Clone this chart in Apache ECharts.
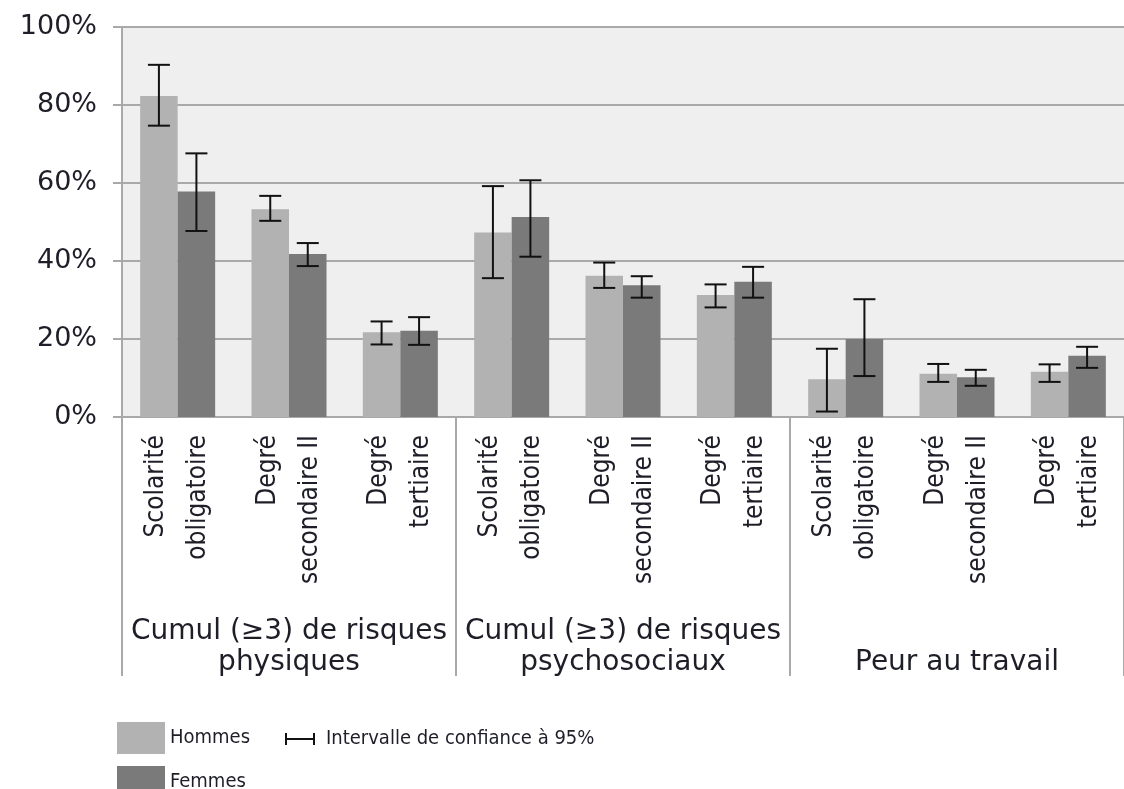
<!DOCTYPE html>
<html>
<head>
<meta charset="utf-8">
<script src="https://cdn.jsdelivr.net/npm/echarts@6/dist/echarts.min.js"></script>
<style>
  html, body { margin: 0; padding: 0; background: #fff; }
  #chart { width: 1124px; height: 789px; }
</style>
</head>
<body>
<div id="chart"></div>
<script>
// categories (niveau de formation), 3 per group
var categories = [
  'Scolarité\nobligatoire', 'Degré\nsecondaire II', 'Degré\ntertiaire',
  'Scolarité\nobligatoire', 'Degré\nsecondaire II', 'Degré\ntertiaire',
  'Scolarité\nobligatoire', 'Degré\nsecondaire II', 'Degré\ntertiaire'
];
var groups = ['Cumul (≥3) de risques\nphysiques', 'Cumul (≥3) de risques\npsychosociaux', 'Peur au travail'];
var yTicks = [0, 20, 40, 60, 80, 100];

var hommes = [82.3, 53.3, 21.7, 47.3, 36.2, 31.3, 9.7, 11.1, 11.6];
var femmes = [57.8, 41.8, 22.1, 51.3, 33.8, 34.7, 20.0, 10.2, 15.7];
// intervalles de confiance 95% (bas, haut)
var hommesLow  = [74.7, 50.3, 18.6, 35.6, 33.1, 28.1, 1.4, 9.0, 9.0];
var hommesHigh = [90.3, 56.7, 24.5, 59.2, 39.6, 34.0, 17.5, 13.6, 13.5];
var femmesLow  = [47.7, 38.7, 18.5, 41.1, 30.6, 30.6, 10.5, 8.0, 12.6];
var femmesHigh = [67.6, 44.6, 25.6, 60.7, 36.1, 38.5, 30.2, 12.1, 18.0];

var barW = 37.5;
var narrow = '"DejaVu Sans Condensed", "Liberation Sans Narrow", sans-serif';
var wide = '"DejaVu Sans", Verdana, sans-serif';
var txt = '#1e1e28';

var errData = [];
for (var i = 0; i < categories.length; i++) {
  errData.push([i, hommesLow[i], hommesHigh[i], 0]);
  errData.push([i, femmesLow[i], femmesHigh[i], 1]);
}

function renderErr(params, api) {
  var idx = api.value(0);
  var top = api.coord([idx, api.value(2)]);
  var bot = api.coord([idx, api.value(1)]);
  var x = top[0] + (api.value(3) === 0 ? -1 : 1) * barW / 2;
  var cap = 11;
  var st = { stroke: '#111', lineWidth: 2 };
  return {
    type: 'group',
    children: [
      { type: 'line', shape: { x1: x, y1: top[1], x2: x, y2: bot[1] }, style: st },
      { type: 'line', shape: { x1: x - cap, y1: top[1], x2: x + cap, y2: top[1] }, style: st },
      { type: 'line', shape: { x1: x - cap, y1: bot[1], x2: x + cap, y2: bot[1] }, style: st }
    ]
  };
}

var legendText = { fontFamily: narrow, fontSize: 20, color: txt, padding: [0, 0, 0, 0] };

var myChart = echarts.init(document.getElementById('chart'));
var option = {
  animation: false,
  grid: {
    left: 122, top: 27, width: 1012, height: 390,
    show: true, backgroundColor: '#efefef', borderWidth: 0
  },
  legend: [{
    data: ['Hommes'],
    left: 112, top: 717,
    itemWidth: 48, itemHeight: 32, icon: 'rect',
    textStyle: legendText
  }, {
    data: ['Femmes'],
    left: 112, top: 761,
    itemWidth: 48, itemHeight: 32, icon: 'rect',
    textStyle: legendText
  }, {
    data: ['Intervalle de confiance à 95%'],
    left: 280, top: 724,
    itemWidth: 30, itemHeight: 12,
    icon: 'path://M0,0h2v12h-2z M0,5h30v2h-30z M28,0h2v12h-2z',
    textStyle: { fontFamily: narrow, fontSize: 20, color: txt, padding: [0, 0, 0, 6] }
  }],
  xAxis: [{
    type: 'category',
    data: categories,
    position: 'bottom',
    axisLine: { lineStyle: { color: '#a9a9a9', width: 2 } },
    axisTick: { show: false },
    axisLabel: {
      rotate: 90, margin: 18, interval: 0,
      fontFamily: narrow, fontSize: 26, lineHeight: 42, color: txt
    }
  }, {
    type: 'category',
    data: groups,
    position: 'bottom',
    axisLine: { show: false },
    axisTick: { show: true, length: 259, lineStyle: { color: '#a9a9a9', width: 2 } },
    axisLabel: {
      margin: 199, interval: 0,
      fontFamily: wide, fontSize: 28, lineHeight: 31, color: txt,
      verticalAlign: 'top',
      formatter: function (v) { return v.indexOf('\n') < 0 ? '\n' + v : v; }
    }
  }],
  yAxis: {
    type: 'value',
    min: yTicks[0], max: yTicks[yTicks.length - 1], interval: 20,
    axisLine: { show: true, lineStyle: { color: '#a9a9a9', width: 2 } },
    axisTick: { show: true, length: 9, lineStyle: { color: '#a9a9a9', width: 2 } },
    splitLine: { lineStyle: { color: '#a9a9a9', width: 2 } },
    axisLabel: {
      margin: 25, fontFamily: wide, fontSize: 27, color: txt,
      formatter: '{value}%'
    }
  },
  series: [{
    name: 'Hommes', type: 'bar', data: hommes,
    barWidth: barW, barGap: '0%',
    itemStyle: { color: '#b1b2b1' }
  }, {
    name: 'Femmes', type: 'bar', data: femmes,
    barWidth: barW, barGap: '0%',
    itemStyle: { color: '#7a7a7a' }
  }, {
    name: 'Intervalle de confiance à 95%', type: 'custom',
    renderItem: renderErr,
    encode: { x: 0, y: [1, 2] },
    data: errData,
    itemStyle: { color: '#111' },
    z: 10
  }]
};
myChart.setOption(option);
</script>
</body>
</html>
